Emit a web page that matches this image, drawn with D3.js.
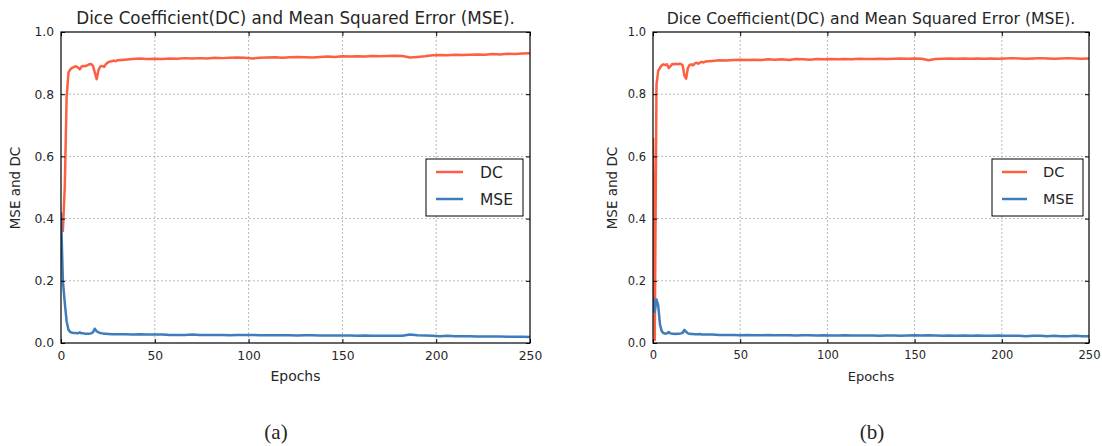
<!DOCTYPE html>
<html>
<head>
<meta charset="utf-8">
<script src="https://cdn.jsdelivr.net/npm/d3@7"></script>
<style>
  body { margin: 0; background: #fff; }
  svg { display: block; }
  text { font-family: "DejaVu Sans", sans-serif; fill: #262626; }
</style>
</head>
<body>
<svg id="canvas" width="1102" height="446"></svg>
<script>
// epochs sampled every epoch up to 30, then every 4
let epochs = [0,1,2,3,4,5,6,7,8,9,10,11,12,13,14,15,16,17,18,19,20,21,22,23,24,25,26,27,28,29,30,
  34,38,42,46,50,54,58,62,66,70,74,78,82,86,90,94,98,102,106,110,114,118,122,126,130,134,138,142,146,150,
  154,158,162,166,170,174,178,182,186,190,194,198,202,206,210,214,218,222,226,230,234,238,242,246,250];

// panel (a)
let dcA = [0.40,0.36,0.50,0.79,0.87,0.880,0.885,0.888,0.890,0.886,0.880,0.889,0.891,0.890,0.893,0.896,0.897,0.892,0.870,0.848,
  0.878,0.889,0.891,0.888,0.897,0.902,0.905,0.906,0.908,0.906,0.909,
  0.911,0.913,0.915,0.913,0.914,0.913,0.915,0.914,0.916,0.915,0.916,0.915,0.917,0.916,0.917,0.918,0.917,0.915,0.917,0.918,
  0.919,0.917,0.919,0.920,0.919,0.918,0.920,0.921,0.920,0.922,0.921,0.922,0.921,0.923,0.922,0.923,0.924,0.923,0.918,0.920,
  0.922,0.925,0.926,0.925,0.927,0.926,0.927,0.928,0.927,0.929,0.928,0.930,0.929,0.931,0.932];
let mseA = [0.42,0.20,0.13,0.07,0.042,0.035,0.033,0.032,0.032,0.031,0.034,0.031,0.031,0.030,0.030,0.030,0.031,0.034,0.046,0.038,
  0.034,0.032,0.031,0.030,0.030,0.029,0.029,0.028,0.028,0.028,0.028,
  0.028,0.027,0.028,0.027,0.027,0.027,0.026,0.026,0.026,0.027,0.026,0.026,0.026,0.026,0.025,0.026,0.026,0.026,0.025,0.025,
  0.025,0.025,0.025,0.024,0.025,0.025,0.024,0.024,0.024,0.024,0.024,0.023,0.024,0.023,0.023,0.023,0.023,0.023,0.027,0.025,
  0.024,0.023,0.022,0.023,0.022,0.022,0.022,0.021,0.021,0.021,0.021,0.020,0.020,0.020,0.019];

// panel (b)
let dcB = [0.66,0.01,0.83,0.875,0.885,0.893,0.896,0.894,0.896,0.884,0.890,0.897,0.896,0.898,0.896,0.898,0.897,0.893,0.860,0.850,
  0.884,0.894,0.896,0.893,0.899,0.901,0.898,0.902,0.904,0.902,0.905,
  0.907,0.909,0.908,0.910,0.911,0.910,0.911,0.910,0.912,0.911,0.912,0.910,0.913,0.912,0.911,0.913,0.912,0.913,0.912,0.913,
  0.912,0.914,0.913,0.913,0.914,0.913,0.914,0.915,0.914,0.915,0.914,0.909,0.913,0.914,0.915,0.914,0.915,0.914,0.915,0.914,
  0.915,0.914,0.915,0.916,0.915,0.914,0.915,0.916,0.915,0.914,0.915,0.916,0.915,0.914,0.915];
let mseB = [0.15,0.10,0.14,0.12,0.06,0.038,0.032,0.030,0.031,0.035,0.031,0.030,0.030,0.029,0.030,0.030,0.031,0.033,0.042,0.036,
  0.031,0.030,0.029,0.029,0.028,0.028,0.028,0.029,0.027,0.027,0.027,
  0.027,0.026,0.026,0.026,0.025,0.026,0.025,0.025,0.026,0.025,0.025,0.025,0.024,0.025,0.025,0.024,0.025,0.024,0.024,0.025,
  0.024,0.024,0.024,0.024,0.023,0.024,0.024,0.023,0.024,0.025,0.024,0.025,0.024,0.023,0.024,0.023,0.024,0.023,0.024,0.023,
  0.023,0.024,0.023,0.023,0.023,0.022,0.023,0.023,0.022,0.023,0.022,0.022,0.023,0.022,0.022];

let xTicks = [0, 50, 100, 150, 200, 250];
let yTicks = [0.0, 0.2, 0.4, 0.6, 0.8, 1.0];
let seriesNames = ['DC', 'MSE'];
let seriesColors = ['#fd5f43', '#3d7dbb'];
let titleText = 'Dice Coefficient(DC) and Mean Squared Error (MSE).';
let xLabelText = 'Epochs';
let yLabelText = 'MSE and DC';
let captions = ['(a)', '(b)'];

let canvas = d3.select('#canvas');

//panel layouts
let panels = [
  {dc: dcA, mse: mseA, left: 61, right: 530, top: 32, bottom: 343, k: 1.07, titleW: 439,
   legend: {x0: 426, x1: 523, lx0: 436, lx1: 463, tx: 480}, ylabX: 15, capX: 276},
  {dc: dcB, mse: mseB, left: 653, right: 1089, top: 32, bottom: 343, k: 1.0, titleW: 409,
   legend: {x0: 992, x1: 1083, lx0: 1002, lx1: 1027, tx: 1043}, ylabX: 612, capX: 872}
];

let drawPanel = (p, i) => {
  let x = d3.scaleLinear().domain([0, 250]).range([p.left, p.right]);
  let y = d3.scaleLinear().domain([0, 1]).range([p.bottom, p.top]);
  let g = canvas.append('g');

  //dotted grid
  g.selectAll('.gx').data(xTicks.slice(1, -1)).enter().append('line')
    .attr('x1', d => x(d)).attr('x2', d => x(d))
    .attr('y1', p.top).attr('y2', p.bottom)
    .attr('stroke', '#a8a8a8').attr('stroke-width', 0.8).attr('stroke-dasharray', '2,2');
  g.selectAll('.gy').data(yTicks.slice(1, -1)).enter().append('line')
    .attr('y1', d => y(d)).attr('y2', d => y(d))
    .attr('x1', p.left).attr('x2', p.right)
    .attr('stroke', '#a8a8a8').attr('stroke-width', 0.8).attr('stroke-dasharray', '2,2');

  //clip for the lines
  let clipId = 'clip' + i;
  canvas.append('clipPath').attr('id', clipId).append('rect')
    .attr('x', p.left).attr('y', p.top)
    .attr('width', p.right - p.left).attr('height', p.bottom - p.top);

  let line = d3.line().x((d, j) => x(epochs[j])).y(d => y(d));
  [p.dc, p.mse].forEach((s, j) => {
    g.append('path').datum(s)
      .attr('d', line)
      .attr('fill', 'none')
      .attr('stroke', seriesColors[j])
      .attr('stroke-width', 2.5)
      .attr('stroke-linejoin', 'round')
      .attr('clip-path', 'url(#' + clipId + ')');
  });

  //axes with inward ticks
  let fs = 11.5 * p.k;
  g.append('g').attr('transform', 'translate(0,' + p.bottom + ')')
    .call(d3.axisBottom(x).tickValues(xTicks).tickSize(-4).tickPadding(8).tickFormat(d3.format('d')));
  g.append('g').attr('transform', 'translate(' + p.left + ',0)')
    .call(d3.axisLeft(y).tickValues(yTicks).tickSize(-4).tickPadding(7).tickFormat(d3.format('.1f')));
  g.append('g').attr('transform', 'translate(0,' + p.top + ')')
    .call(d3.axisTop(x).tickValues(xTicks).tickSize(-4).tickFormat(''));
  g.append('g').attr('transform', 'translate(' + p.right + ',0)')
    .call(d3.axisRight(y).tickValues(yTicks).tickSize(-4).tickFormat(''));
  g.selectAll('.domain').remove();
  g.selectAll('.tick line').attr('stroke', '#000');
  g.selectAll('.tick text').style('font-size', fs + 'px').attr('fill', '#262626')
    .style('font-family', '"DejaVu Sans", sans-serif');

  //frame
  g.append('rect')
    .attr('x', p.left).attr('y', p.top)
    .attr('width', p.right - p.left).attr('height', p.bottom - p.top)
    .attr('fill', 'none').attr('stroke', '#000').attr('stroke-width', 1.2);

  //title, fitted to the width seen in the picture
  let title = g.append('text')
    .attr('x', (p.left + p.right) / 2).attr('y', 24)
    .attr('text-anchor', 'middle')
    .style('font-size', '14px')
    .text(titleText);
  let tw = title.node().getComputedTextLength();
  title.style('font-size', (14 * p.titleW / tw) + 'px');

  g.append('text')
    .attr('x', (p.left + p.right) / 2).attr('y', 381)
    .attr('text-anchor', 'middle')
    .style('font-size', (13 * p.k) + 'px')
    .text(xLabelText);

  g.append('text')
    .attr('transform', 'translate(' + (p.ylabX + 5) + ',188) rotate(-90)')
    .attr('text-anchor', 'middle')
    .style('font-size', '13.5px')
    .text(yLabelText);

  //legend
  let L = p.legend;
  g.append('rect')
    .attr('x', L.x0).attr('y', 159)
    .attr('width', L.x1 - L.x0).attr('height', 57)
    .attr('fill', '#fff').attr('stroke', '#000').attr('stroke-width', 1);
  let lfs = 14.5 * p.k;
  seriesNames.forEach((name, j) => {
    let ly = 172 + j * 27;
    g.append('line')
      .attr('x1', L.lx0).attr('x2', L.lx1)
      .attr('y1', ly).attr('y2', ly)
      .attr('stroke', seriesColors[j]).attr('stroke-width', 2.5);
    g.append('text')
      .attr('x', L.tx).attr('y', ly + lfs * 0.36)
      .style('font-size', lfs + 'px')
      .text(name);
  });

  //caption under the panel
  canvas.append('text')
    .attr('x', p.capX).attr('y', 439)
    .attr('text-anchor', 'middle')
    .style('font-family', '"Liberation Serif", serif')
    .style('font-size', '21px')
    .attr('fill', '#000')
    .text(captions[i]);
};

panels.forEach(drawPanel);
</script>
</body>
</html>
